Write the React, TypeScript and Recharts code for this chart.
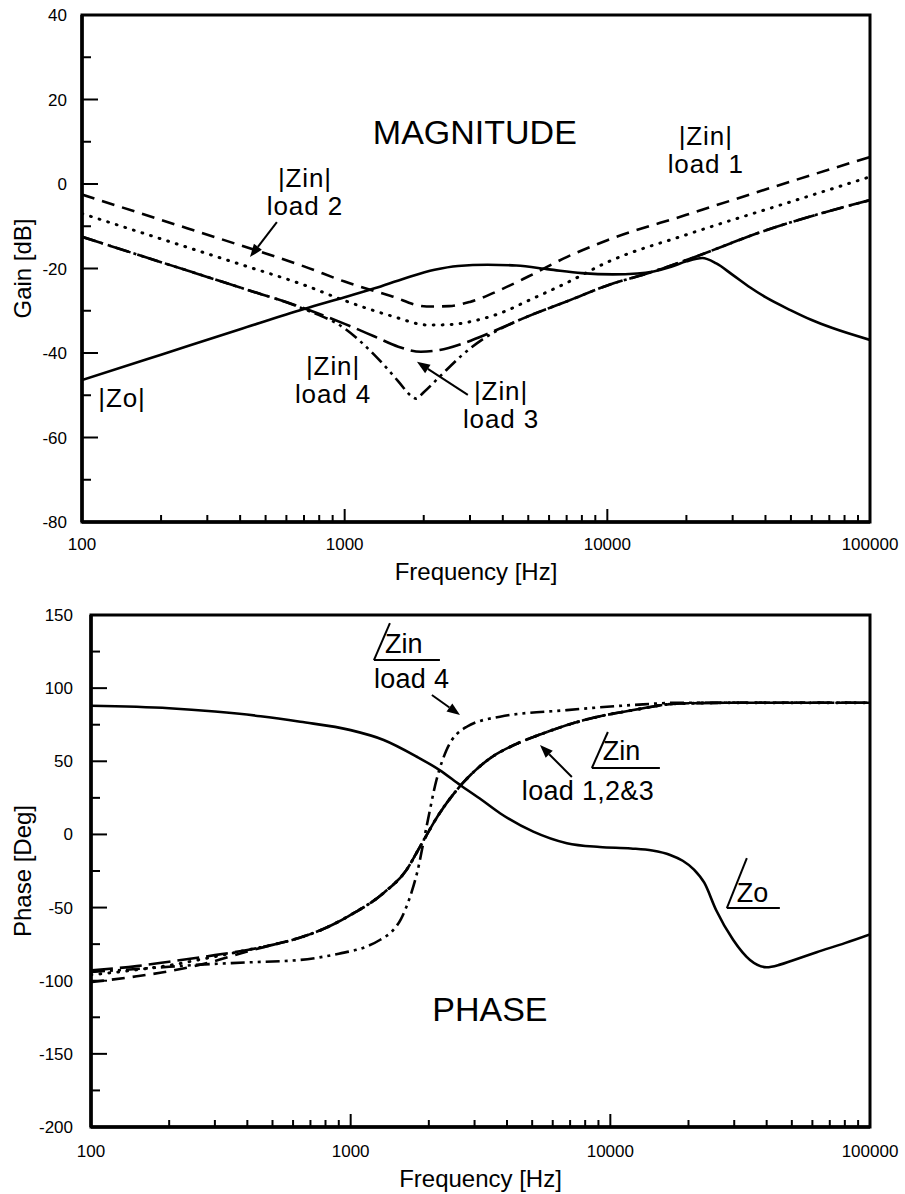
import React from 'react';
import { LineChart, Line, XAxis, YAxis, ReferenceArea, ReferenceDot, ReferenceLine, Label } from 'recharts';

const FONT = '"Liberation Sans", Arial, Helvetica, sans-serif';

// ---- axes ----
const freqTicks = [
  100, 200, 300, 400, 500, 600, 700, 800, 900,
  1000, 2000, 3000, 4000, 5000, 6000, 7000, 8000, 9000,
  10000, 20000, 30000, 40000, 50000, 60000, 70000, 80000, 90000,
  100000,
];
const freqLabels = [100, 1000, 10000, 100000];

const gainTicks = [-80, -70, -60, -50, -40, -30, -20, -10, 0, 10, 20, 30, 40];
const gainLabels = [-80, -60, -40, -20, 0, 20, 40];

const phaseTicks = [-200, -175, -150, -125, -100, -75, -50, -25, 0, 25, 50, 75, 100, 125, 150];
const phaseLabels = [-200, -150, -100, -50, 0, 50, 100, 150];

// ---- magnitude [Hz, dB] ----
const zinMagLoad1: [number, number][] = [
  [100, -2.5], [200, -8.5], [400, -14.5], [700, -19.5], [1000, -23.1], [1500, -26.5],
  [2050, -29.0], [2500, -28.9], [3000, -27.9], [3900, -25.1], [5000, -21.9], [7000, -17.3],
  [10000, -13.3], [20000, -7.3], [50000, 0.6], [100000, 6.4],
];
const zinMagLoad2: [number, number][] = [
  [100, -7.0], [200, -13.0], [400, -19.0], [700, -23.9], [1000, -27.6], [1500, -31.2],
  [2100, -33.4], [2600, -33.2], [3200, -32.2], [3900, -30.6], [5000, -27.6], [7000, -23.4],
  [10000, -18.5], [20000, -12.0], [50000, -4.2], [100000, 1.7],
];
const zinMagLoad3: [number, number][] = [
  [100, -12.5], [200, -18.5], [400, -24.5], [700, -29.4], [1000, -33.1], [1300, -36.1],
  [1600, -38.5], [1950, -39.7], [2300, -39.3], [2800, -37.8], [3400, -35.8], [4000, -33.9],
  [5000, -31.3], [7000, -27.8], [10000, -24.0], [15000, -20.7], [20000, -18.0],
  [40000, -11.0], [100000, -3.8],
];
const zinMagLoad4: [number, number][] = [
  [100, -12.5], [200, -18.5], [400, -24.5], [700, -29.6], [1000, -34.2], [1300, -40.5],
  [1600, -46.7], [1780, -50.0], [1870, -50.8], [2000, -49.3], [2300, -45.6], [2800, -40.5],
  [3400, -36.5], [4000, -34.0], [5000, -31.3], [7000, -27.8], [10000, -24.0],
  [15000, -20.7], [20000, -18.0], [40000, -11.0], [100000, -3.8],
];
const zoMag: [number, number][] = [
  [100, -46.4], [200, -40.4], [400, -34.4], [700, -29.6], [1000, -26.8], [1300, -24.7],
  [1700, -22.3], [2200, -20.3], [2700, -19.4], [3500, -19.1], [4500, -19.3], [6000, -20.2],
  [8000, -21.1], [10500, -21.4], [13000, -21.2], [15000, -20.7], [17500, -19.6],
  [20000, -18.3], [23000, -17.5], [26000, -18.8], [30000, -21.5], [35000, -24.5],
  [40000, -26.8], [50000, -29.9], [60000, -32.2], [72000, -34.1], [100000, -36.9],
];

// ---- phase [Hz, deg] ----
const zinPhaseLoad1: [number, number][] = [
  [100, -101], [150, -97], [200, -93.5], [300, -86.5], [400, -80], [500, -75.5],
  [640, -70.5], [800, -64], [1000, -55], [1340, -40], [1640, -24.3], [1850, -8.4],
  [2200, 14.5], [2700, 35], [3440, 52], [4300, 61.5], [5400, 68.5], [7870, 78],
  [12250, 85], [18500, 89.5], [30000, 90], [100000, 90],
];
const zinPhaseLoad2: [number, number][] = [
  [100, -96], [150, -92.5], [200, -89.5], [300, -83.5], [400, -79], [500, -75.5],
  [640, -70.5], [800, -64], [1000, -55], [1340, -40], [1640, -24.3], [1850, -8.4],
  [2200, 14.5], [2700, 35], [3440, 52], [4300, 61.5], [5400, 68.5], [7870, 78],
  [12250, 85], [18500, 89.5], [30000, 90], [100000, 90],
];
const zinPhaseLoad3: [number, number][] = [
  [100, -93], [150, -90], [200, -87], [263, -84], [300, -82.5], [400, -79], [500, -75.5],
  [640, -70.5], [800, -64], [1000, -55], [1340, -40], [1640, -24.3], [1850, -8.4],
  [2200, 14.5], [2700, 35], [3440, 52], [4300, 61.5], [5400, 68.5], [7870, 78],
  [12250, 85], [18500, 89.5], [30000, 90], [100000, 90],
];
const zinPhaseLoad4: [number, number][] = [
  [100, -94], [200, -90.5], [263, -89], [400, -87.5], [640, -85.8], [900, -81.5],
  [1150, -76.7], [1300, -72], [1460, -65.3], [1560, -58], [1640, -49.4], [1720, -39],
  [1800, -26.6], [1960, 5.3], [2140, 37.2], [2340, 57.7], [2800, 73.6], [3760, 80.5],
  [6800, 85], [12250, 88.5], [18500, 90], [100000, 90],
];
const zoPhase: [number, number][] = [
  [100, 88], [200, 86.3], [300, 84], [450, 80.8], [640, 77], [1000, 71.3], [1340, 64.6],
  [1800, 53.1], [2200, 44], [2640, 33.8], [3200, 23.5], [3760, 14.5], [5050, 1.9],
  [6800, -6], [9100, -8.6], [12000, -9.6], [14500, -11], [17000, -14], [19000, -18],
  [21000, -24], [23000, -33], [25600, -52], [29700, -72], [34500, -85.8], [40000, -90.8],
  [45000, -89], [50000, -86.3], [62300, -80.5], [80000, -74.3], [100000, -68.3],
];

const pts = (arr: [number, number][]) => arr.map(([f, v]) => ({ f, v }));

// ---- tick renderers (inward ticks, labels only on majors) ----
const isIn = (list: number[], v: number) => list.some((d) => Math.abs(d - v) < 1e-6);

const makeFreqTick = (labelDy: number) => (p: any) => {
  const { x, y, payload } = p;
  const major = isIn(freqLabels, payload.value);
  return (
    <g>
      <line x1={x} x2={x} y1={y} y2={y - (major ? 13 : 7)} stroke="#000" strokeWidth={2} />
      {major && (
        <text x={x} y={y + labelDy} textAnchor="middle" fontSize={17} fontFamily={FONT} fill="#000">
          {payload.value}
        </text>
      )}
    </g>
  );
};

const makeValueTick = (labels: number[], gap: number) => (p: any) => {
  const { x, y, payload } = p;
  const major = isIn(labels, payload.value);
  return (
    <g>
      <line x1={x} x2={x + (major ? 16 : 9)} y1={y} y2={y} stroke="#000" strokeWidth={2} />
      {major && (
        <text x={x - gap} y={y + 6} textAnchor="end" fontSize={17} fontFamily={FONT} fill="#000">
          {payload.value}
        </text>
      )}
    </g>
  );
};

const xTitle = (dy: number) => (p: any) => {
  const vb = p.viewBox || {};
  return (
    <text x={vb.x + vb.width / 2} y={vb.y + dy} textAnchor="middle" fontSize={24} fontFamily={FONT} fill="#000">
      Frequency [Hz]
    </text>
  );
};

const yTitle = (text: string) => (p: any) => {
  const vb = p.viewBox || {};
  const cy = vb.y + vb.height / 2;
  return (
    <text transform={`translate(20, ${cy}) rotate(-90)`} y={11} textAnchor="middle" fontSize={24} fontFamily={FONT} fill="#000">
      {text}
    </text>
  );
};

// ---- annotation shapes ----
const noteShape = (lines: string[], size: number, spacing: number) => (p: any) => (
  <g>
    {lines.map((l, i) => (
      <text
        key={i}
        x={p.cx}
        y={p.cy + i * 28}
        textAnchor="middle"
        fontSize={size}
        letterSpacing={spacing}
        fontFamily={FONT}
        fill="#000"
      >
        {l}
      </text>
    ))}
  </g>
);

const arrowShape = (p: any) => {
  const { x1, y1, x2, y2 } = p;
  const ang = Math.atan2(y2 - y1, x2 - x1);
  const L = 13;
  const W = 5;
  const bx = x2 - L * Math.cos(ang);
  const by = y2 - L * Math.sin(ang);
  const px = -Math.sin(ang) * W;
  const py = Math.cos(ang) * W;
  return (
    <g>
      <line x1={x1} y1={y1} x2={bx} y2={by} stroke="#000" strokeWidth={2} />
      <polygon points={`${x2},${y2} ${bx + px},${by + py} ${bx - px},${by - py}`} fill="#000" />
    </g>
  );
};

type AngleNote = {
  f: number; v: number; main: string; sub: string;
  slashDx: number; slashH: number; under: number;
  tx: number; ty: number; sx: number; sy: number;
};

const angleShape = (n: AngleNote) => (p: any) => {
  const { cx, cy } = p;
  return (
    <g>
      <line x1={cx} y1={cy} x2={cx + n.slashDx} y2={cy - n.slashH} stroke="#000" strokeWidth={2} />
      <line x1={cx} y1={cy} x2={cx + n.under} y2={cy} stroke="#000" strokeWidth={2} />
      <text x={cx + n.tx} y={cy + n.ty} fontSize={27} fontFamily={FONT} fill="#000">{n.main}</text>
      {n.sub && (
        <text x={cx + n.sx} y={cy + n.sy} fontSize={27} letterSpacing={0.3} fontFamily={FONT} fill="#000">{n.sub}</text>
      )}
    </g>
  );
};

const magNotes = [
  { f: 3130, v: 9.5, lines: ['MAGNITUDE'], size: 34, spacing: 0 },
  { f: 706, v: -0.7, lines: ['|Zin|', 'load 2'], size: 26, spacing: 0.9 },
  { f: 23700, v: 9.2, lines: ['|Zin|', 'load 1'], size: 26, spacing: 0.9 },
  { f: 903, v: -45.2, lines: ['|Zin|', 'load 4'], size: 26, spacing: 0.9 },
  { f: 3938, v: -51.1, lines: ['|Zin|', 'load 3'], size: 26, spacing: 0.9 },
  { f: 142, v: -52.8, lines: ['|Zo|'], size: 26, spacing: 0.9 },
];
const magArrows = [
  { from: { x: 552, y: -9.0 }, to: { x: 436, y: -17.3 } },
  { from: { x: 2944, y: -49.9 }, to: { x: 1884, y: -42.1 } },
];

const phaseNotes = [{ f: 3436, v: -127.5, lines: ['PHASE'], size: 34, spacing: 0 }];
const phaseAngles: AngleNote[] = [
  { f: 1229, v: 119.2, main: 'Zin', sub: 'load 4', slashDx: 16, slashH: 37, under: 66, tx: 11, ty: -7, sx: 0, sy: 28 },
  { f: 8490, v: 45.4, main: 'Zin', sub: 'load 1,2&3', slashDx: 16, slashH: 36, under: 68, tx: 11, ty: -8, sx: -70, sy: 32 },
  { f: 28100, v: -50.3, main: 'Zo', sub: '', slashDx: 20, slashH: 50, under: 53, tx: 10, ty: -6, sx: 0, sy: 0 },
];
const phaseArrows = [
  { from: { x: 2055, y: 95.3 }, to: { x: 2637, y: 81.6 } },
  { from: { x: 7110, y: 39.3 }, to: { x: 5360, y: 61.1 } },
];

const lineBase = {
  dataKey: 'v',
  type: 'monotone' as const,
  stroke: '#000',
  strokeWidth: 2.6,
  dot: false,
  activeDot: false,
  isAnimationActive: false,
};

const DASH = '13 8';
const DOT = '0.8 8.2';
const LONG = '22 7';
const DDOT = '14 5 3 5 3 5';

export default function App() {
  return (
    <div style={{ position: 'absolute', left: 0, top: 0, width: 905, height: 1194, background: '#fff', fontFamily: FONT }}>
      {/* Magnitude */}
      <div style={{ position: 'absolute', left: 0, top: 0 }}>
        <LineChart width={905} height={600} margin={{ top: 15, right: 35, bottom: 0, left: 0 }}>
          <XAxis
            dataKey="f"
            type="number"
            scale="log"
            domain={[100, 100000]}
            allowDataOverflow
            ticks={freqTicks}
            interval={0}
            tickSize={0}
            tickMargin={0}
            tickLine={false}
            axisLine={{ stroke: '#000', strokeWidth: 3.5 }}
            tick={makeFreqTick(28)}
            height={78}
          >
            <Label content={xTitle(58)} />
          </XAxis>
          <YAxis
            type="number"
            domain={[-80, 40]}
            allowDataOverflow
            ticks={gainTicks}
            interval={0}
            tickSize={0}
            tickMargin={0}
            tickLine={false}
            axisLine={{ stroke: '#000', strokeWidth: 3.5 }}
            tick={makeValueTick(gainLabels, 15)}
            width={82}
          >
            <Label content={yTitle('Gain [dB]')} />
          </YAxis>
          <ReferenceArea x1={100} x2={100000} y1={-80} y2={40} fill="none" fillOpacity={0} stroke="#000" strokeWidth={3} ifOverflow="visible" />
          <Line {...lineBase} data={pts(zoMag)} name="|Zo|" />
          <Line {...lineBase} data={pts(zinMagLoad1)} strokeDasharray={DASH} name="|Zin| load 1" />
          <Line {...lineBase} data={pts(zinMagLoad2)} strokeDasharray={DOT} strokeLinecap="round" strokeWidth={3} name="|Zin| load 2" />
          <Line {...lineBase} data={pts(zinMagLoad3)} strokeDasharray={LONG} name="|Zin| load 3" />
          <Line {...lineBase} data={pts(zinMagLoad4)} strokeDasharray={DDOT} name="|Zin| load 4" />
          {magNotes.map((n, i) => (
            <ReferenceDot key={`mn${i}`} x={n.f} y={n.v} r={0} ifOverflow="visible" shape={noteShape(n.lines, n.size, n.spacing)} />
          ))}
          {magArrows.map((a, i) => (
            <ReferenceLine key={`ma${i}`} segment={[a.from, a.to]} ifOverflow="visible" shape={arrowShape} />
          ))}
        </LineChart>
      </div>

      {/* Phase */}
      <div style={{ position: 'absolute', left: 0, top: 600 }}>
        <LineChart width={905} height={594} margin={{ top: 15, right: 35, bottom: 0, left: 0 }}>
          <XAxis
            dataKey="f"
            type="number"
            scale="log"
            domain={[100, 100000]}
            allowDataOverflow
            ticks={freqTicks}
            interval={0}
            tickSize={0}
            tickMargin={0}
            tickLine={false}
            axisLine={{ stroke: '#000', strokeWidth: 3.5 }}
            tick={makeFreqTick(30)}
            height={67}
          >
            <Label content={xTitle(60)} />
          </XAxis>
          <YAxis
            type="number"
            domain={[-200, 150]}
            allowDataOverflow
            ticks={phaseTicks}
            interval={0}
            tickSize={0}
            tickMargin={0}
            tickLine={false}
            axisLine={{ stroke: '#000', strokeWidth: 3.5 }}
            tick={makeValueTick(phaseLabels, 18)}
            width={91}
          >
            <Label content={yTitle('Phase [Deg]')} />
          </YAxis>
          <ReferenceArea x1={100} x2={100000} y1={-200} y2={150} fill="none" fillOpacity={0} stroke="#000" strokeWidth={3} ifOverflow="visible" />
          <Line {...lineBase} data={pts(zoPhase)} name="Zo" />
          <Line {...lineBase} data={pts(zinPhaseLoad1)} strokeDasharray={DASH} name="Zin load 1" />
          <Line {...lineBase} data={pts(zinPhaseLoad2)} strokeDasharray={DOT} strokeLinecap="round" strokeWidth={3} name="Zin load 2" />
          <Line {...lineBase} data={pts(zinPhaseLoad3)} strokeDasharray={LONG} name="Zin load 3" />
          <Line {...lineBase} data={pts(zinPhaseLoad4)} strokeDasharray={DDOT} name="Zin load 4" />
          {phaseNotes.map((n, i) => (
            <ReferenceDot key={`pn${i}`} x={n.f} y={n.v} r={0} ifOverflow="visible" shape={noteShape(n.lines, n.size, n.spacing)} />
          ))}
          {phaseAngles.map((n, i) => (
            <ReferenceDot key={`pg${i}`} x={n.f} y={n.v} r={0} ifOverflow="visible" shape={angleShape(n)} />
          ))}
          {phaseArrows.map((a, i) => (
            <ReferenceLine key={`pa${i}`} segment={[a.from, a.to]} ifOverflow="visible" shape={arrowShape} />
          ))}
        </LineChart>
      </div>
    </div>
  );
}
